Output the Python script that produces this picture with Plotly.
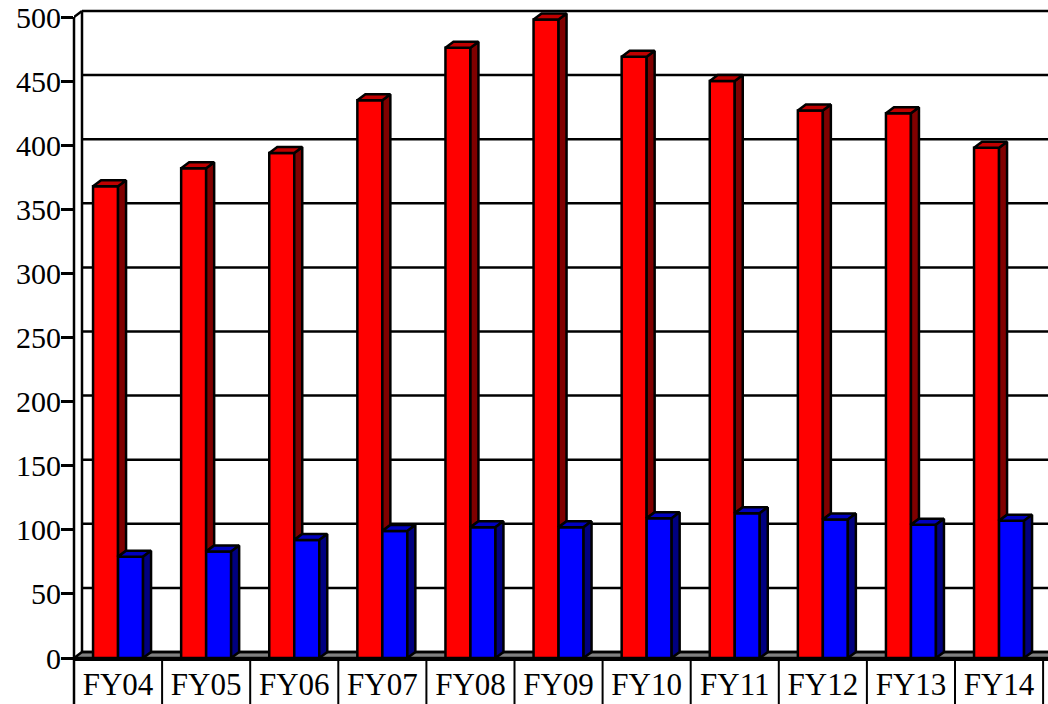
import plotly.graph_objects as go

# Fiscal years and the two series
categories = ["FY04", "FY05", "FY06", "FY07", "FY08", "FY09", "FY10", "FY11", "FY12", "FY13", "FY14"]
red_values = [368, 382, 394, 435, 476, 498, 469, 450, 427, 425, 398]
blue_values = [79, 83, 92, 99, 102, 102, 109, 113, 108, 104, 107]
y_ticks = [0, 50, 100, 150, 200, 250, 300, 350, 400, 450, 500]

# Page geometry (pixels)
W, H = 1048, 704
M_L, M_R, M_T, M_B = 74, 0, 5, 46
PX_PER_CAT = 88.1          # horizontal pixels per category
PX_PER_UNIT = 1.282        # vertical pixels per value unit
DEPTH_X, DEPTH_Y = 8, 6    # 3D depth offset in pixels

plot_w = W - M_L - M_R
plot_h = H - M_T - M_B
x_min = -0.5
x_max = x_min + plot_w / PX_PER_CAT
y_max = plot_h / PX_PER_UNIT

dxu = DEPTH_X / PX_PER_CAT
dyu = DEPTH_Y / PX_PER_UNIT
bar_w = 25 / PX_PER_CAT

FONT = "Liberation Serif, Times New Roman, serif"
RED, RED_TOP, RED_SIDE = "#FF0000", "#C00000", "#800000"
BLUE, BLUE_TOP, BLUE_SIDE = "#0000FF", "#0000C0", "#000080"
LW = 2.5
EDGE = dict(color="black", width=LW)

xs = list(range(len(categories)))

fig = go.Figure()

# Front faces of the columns
fig.add_trace(go.Bar(x=xs, y=red_values, width=bar_w, offset=-bar_w,
                     marker=dict(color=RED, line=EDGE), hoverinfo="skip", showlegend=False))
fig.add_trace(go.Bar(x=xs, y=blue_values, width=bar_w, offset=0,
                     marker=dict(color=BLUE, line=EDGE), hoverinfo="skip", showlegend=False))


def polygons(pts_list):
    px, py = [], []
    for pts in pts_list:
        for (a, b) in pts:
            px.append(a)
            py.append(b)
        px.append(pts[0][0])
        py.append(pts[0][1])
        px.append(None)
        py.append(None)
    return px, py


def face(pts_list, color):
    px, py = polygons(pts_list)
    fig.add_trace(go.Scatter(x=px, y=py, mode="lines", fill="toself", fillcolor=color,
                             line=dict(color="black", width=LW), hoverinfo="skip",
                             showlegend=False))


red_tops, red_sides, blue_tops, blue_sides = [], [], [], []
for i, (r, b) in enumerate(zip(red_values, blue_values)):
    x0, x1, x2 = i - bar_w, i, i + bar_w
    red_tops.append([(x0, r), (x1, r), (x1 + dxu, r + dyu), (x0 + dxu, r + dyu)])
    # only the part of the red side that rises above the blue column is visible
    red_sides.append([(x1, b), (x1 + dxu, b + dyu), (x1 + dxu, r + dyu), (x1, r)])
    blue_tops.append([(x1, b), (x2, b), (x2 + dxu, b + dyu), (x1 + dxu, b + dyu)])
    blue_sides.append([(x2, 0), (x2 + dxu, dyu), (x2 + dxu, b + dyu), (x2, b)])

face(red_sides, RED_SIDE)
face(red_tops, RED_TOP)
face(blue_tops, BLUE_TOP)
face(blue_sides, BLUE_SIDE)

shapes = []
back_x = x_min + dxu

# Floor
shapes.append(dict(type="path", xref="x", yref="y", layer="below",
                   path=f"M {x_min} 0 L {back_x} {dyu} L {x_max + dxu} {dyu} L {x_max + dxu} 0 Z",
                   fillcolor="#808080", line=dict(color="black", width=LW)))

# Back-wall gridlines
for v in y_ticks:
    shapes.append(dict(type="line", xref="x", yref="y", layer="below",
                       x0=back_x, x1=x_max + dxu, y0=v + dyu, y1=v + dyu,
                       line=dict(color="black", width=LW)))

# Back-wall left edge
shapes.append(dict(type="line", xref="x", yref="y", layer="below",
                   x0=back_x, x1=back_x, y0=dyu, y1=y_ticks[-1] + dyu,
                   line=dict(color="black", width=LW)))

# Front value axis and its links to the back wall
shapes.append(dict(type="line", xref="paper", yref="y", layer="above",
                   x0=0, x1=0, y0=0, y1=y_ticks[-1], line=dict(color="black", width=LW)))
shapes.append(dict(type="line", xref="x", yref="y", layer="below",
                   x0=x_min, x1=back_x, y0=y_ticks[-1], y1=y_ticks[-1] + dyu,
                   line=dict(color="black", width=LW)))

# Category label separators
shapes.append(dict(type="line", xref="paper", yref="paper", layer="above",
                   x0=0, x1=0, y0=0, y1=-0.2, line=dict(color="black", width=LW)))
for k in range(1, len(categories) + 1):
    shapes.append(dict(type="line", xref="x", yref="paper", layer="above",
                       x0=k - 0.5, x1=k - 0.5, y0=0, y1=-0.2,
                       line=dict(color="black", width=2)))

fig.update_layout(
    width=W, height=H,
    margin=dict(l=M_L, r=M_R, t=M_T, b=M_B, pad=0, autoexpand=False),
    paper_bgcolor="white", plot_bgcolor="white",
    barmode="overlay",
    shapes=shapes,
    showlegend=False,
    xaxis=dict(range=[x_min, x_max], tickvals=xs, ticktext=categories,
               showgrid=False, zeroline=False, showline=True, linecolor="black",
               linewidth=LW, ticks="", ticklabelstandoff=-3, automargin=False,
               tickfont=dict(family=FONT, size=31, color="black"), fixedrange=True),
    yaxis=dict(range=[0, y_max], tickvals=y_ticks, ticktext=[str(v) for v in y_ticks],
               showgrid=False, zeroline=False, showline=False, automargin=False,
               ticks="outside", ticklen=12, tickwidth=LW, tickcolor="black",
               ticklabelstandoff=-6,
               tickfont=dict(family=FONT, size=30, color="black"), fixedrange=True),
)

fig.write_html("out.html", config={"displayModeBar": False})
